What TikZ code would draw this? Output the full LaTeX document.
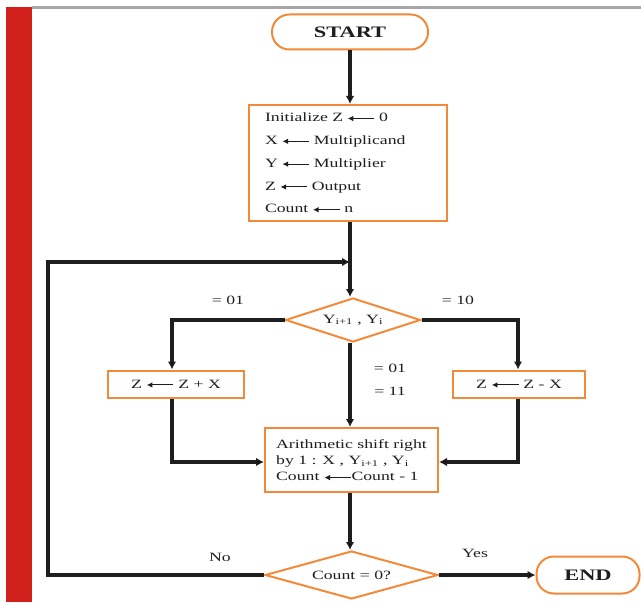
\documentclass[tikz,border=0pt]{standalone}
\usepackage{fontspec}
\setmainfont{Liberation Serif}[FakeStretch=1.4]
\usetikzlibrary{shapes.geometric,arrows.meta,positioning}
\definecolor{boxorange}{HTML}{F28A3A}
\definecolor{barred}{HTML}{D2201A}
\definecolor{rulegray}{HTML}{A6A6A6}
\definecolor{flowink}{HTML}{1E1E1E}
% assignment arrow pointing left, with a solid head
\newcommand{\assignarrow}{\tikz[baseline=-0.55ex]\draw[flowink, line width=0.7pt,
  -{Latex[length=4.2pt,width=4.2pt]}] (20pt,0) -- (0,0);}
\tikzset{
  every node/.style={font=\fontsize{9.5}{11}\selectfont, text=flowink},
  procbox/.style={draw=boxorange, line width=1.5pt, fill=white, rectangle, inner sep=0pt},
  termbox/.style={draw=boxorange, line width=1.5pt, fill=white, rectangle, rounded corners=13pt, inner sep=0pt, font=\fontsize{12}{14}\selectfont\bfseries},
  decbox/.style={draw=boxorange, line width=1.5pt, fill=white, diamond, inner sep=0pt},
  flow/.style={draw=flowink, line width=2.4pt, -{Latex[length=6pt,width=6.5pt]}},
  plain/.style={draw=flowink, line width=2.4pt},
  edgelabel/.style={font=\fontsize{9.5}{11}\selectfont},
}
\begin{document}
\begin{tikzpicture}[x=0.75pt, y=-0.75pt]
  \useasboundingbox (0,0) rectangle (641,602);
  % page frame: red side bar and grey top rule
  \fill[barred] (6,7) rectangle (32,602);
  \fill[rulegray] (32,6) rectangle (641,9);

  % nodes
  \node[termbox, minimum width=117pt, minimum height=26.25pt] (start) at (350,32) {START};
  \node[procbox, minimum width=148.5pt, minimum height=87pt, align=left,
        text width=124.5pt, font=\fontsize{9.5}{17.1}\selectfont] (init) at (348,163)
    {Initialize Z \assignarrow\ 0\\
     X \assignarrow\ Multiplicand\\
     Y \assignarrow\ Multiplier\\
     Z \assignarrow\ Output\\
     Count \assignarrow\ n};
  \node[decbox, minimum width=101.25pt, minimum height=33pt] (ydec) at (353,320) {};
  \node (ytext) at (ydec.center) {Y\textsubscript{i+1} , Y\textsubscript{i}};
  \node[procbox, minimum width=102pt, minimum height=20.25pt] (addbox) at (176,384)
    {Z \assignarrow\ Z + X};
  \node[procbox, minimum width=99pt, minimum height=20.25pt] (subbox) at (519,384)
    {Z \assignarrow\ Z - X};
  \node[procbox, minimum width=129.75pt, minimum height=48pt, align=left,
        font=\fontsize{9.5}{12.3}\selectfont] (shift) at (351.5,460)
    {Arithmetic shift right\\
     by 1 : X , Y\textsubscript{i+1} , Y\textsubscript{i}\\
     Count \assignarrow Count - 1};
  \node[decbox, minimum width=129.75pt, minimum height=36pt] (cdec) at (351.5,575) {};
  \node (ctext) at (cdec.center) {Count = 0?};
  \node[termbox, minimum width=77.25pt, minimum height=27.75pt] (end) at (588,575) {END};

  % helper points of the routing
  \coordinate (join) at (350,262);
  \coordinate (loopbot) at (48,575);
  \coordinate (looptop) at (48,262);
  \coordinate (lefttop) at (172,320);
  \coordinate (righttop) at (518,320);
  \coordinate (leftbot) at (172,462);
  \coordinate (rightbot) at (518,462);

  % connectors
  \draw[flow] (start.south) -- (init.north -| join);
  \draw[plain] (init.south -| join) -- (join);
  \draw[flow] (join) -- (ydec.north -| join);
  \draw[flow] (cdec.west) -- (loopbot) -- (looptop) -- (join);
  \draw[flow] (ydec.west) -- (lefttop) -- (addbox.north -| lefttop);
  \draw[flow] (ydec.east) -- (righttop) -- (subbox.north -| righttop);
  \draw[flow] (ydec.south -| join) -- (shift.north -| join);
  \draw[flow] (addbox.south -| lefttop) -- (leftbot) -- (shift.west |- leftbot);
  \draw[flow] (subbox.south -| righttop) -- (rightbot) -- (shift.east |- rightbot);
  \draw[flow] (shift.south -| join) -- (cdec.north -| join);
  \draw[flow] (cdec.east) -- (end.west);

  % branch labels
  \node[edgelabel] (l01) at (228,300) {= 01};
  \node[edgelabel] (l10) at (458,300) {= 10};
  \node[edgelabel] (m01) at (390,368) {= 01};
  \node[edgelabel] (m11) at (390,391) {= 11};
  \node[edgelabel] (lno) at (220,557) {No};
  \node[edgelabel] (lyes) at (475,553) {Yes};
\end{tikzpicture}
\end{document}
